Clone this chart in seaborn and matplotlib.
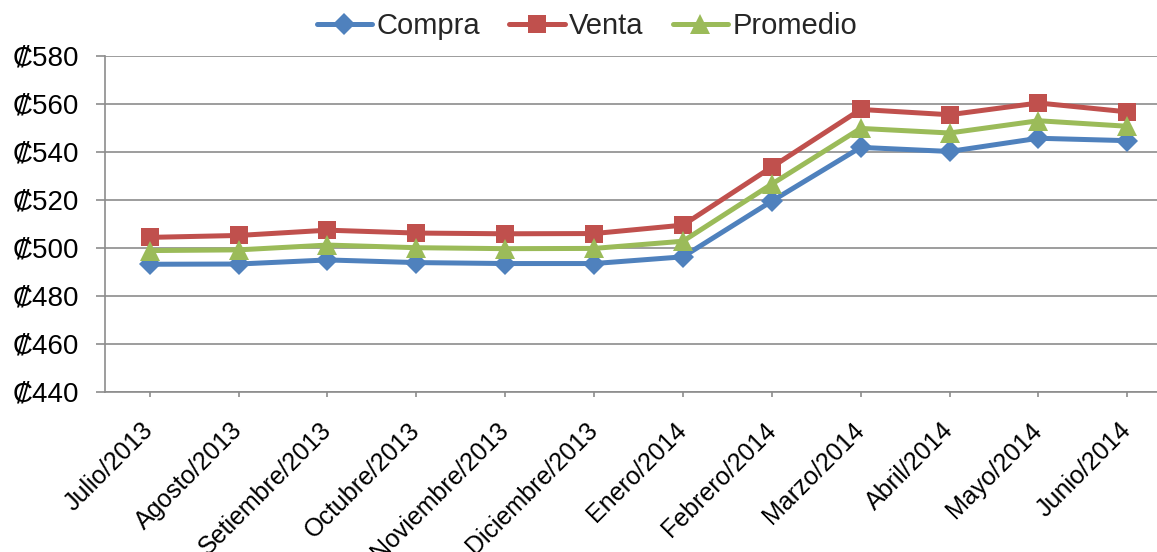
import matplotlib
matplotlib.use("Agg")
import matplotlib.pyplot as plt
import seaborn as sns
import pandas as pd

months = ["Julio/2013", "Agosto/2013", "Setiembre/2013", "Octubre/2013",
          "Noviembre/2013", "Diciembre/2013", "Enero/2014", "Febrero/2014",
          "Marzo/2014", "Abril/2014", "Mayo/2014", "Junio/2014"]
compra = [493.1, 493.2, 494.9, 493.8, 493.4, 493.4, 496.2, 519.4, 541.8, 540.1, 545.6, 544.6]
venta = [504.3, 505.1, 507.3, 506.1, 505.8, 505.9, 509.4, 533.6, 557.6, 555.4, 560.3, 556.6]
promedio = [498.8, 499.1, 501.1, 500.0, 499.6, 499.7, 502.7, 526.5, 549.7, 547.8, 552.9, 550.6]
y_ticks = [440, 460, 480, 500, 520, 540, 560, 580]

sns.set_theme(style="white")
plt.rcParams["font.family"] = ["Liberation Sans", "DejaVu Sans"]

W, H, DPI = 1157, 552, 100
fig = plt.figure(figsize=(W / DPI, H / DPI), dpi=DPI)
ax = fig.add_axes([105.3 / W, 160.3 / H, (1171.7 - 105.3) / W, (391.7 - 55.7) / H])

df = pd.DataFrame({"Mes": months, "Compra": compra, "Venta": venta, "Promedio": promedio})
x = list(range(len(months)))
df["x"] = x

series = [
    ("Compra", "#4F81BD", "D", 11.5),
    ("Venta", "#C0504D", "s", 13),
    ("Promedio", "#9BBB59", "^", 14),
]
for name, color, marker, ms in series:
    sns.lineplot(data=df, x="x", y=name, ax=ax, color=color, marker=marker,
                 markersize=ms, markeredgewidth=0, linewidth=3.6, label=name,
                 sort=False)

grid_c = "#8C8C8C"
ax.set_xlim(-0.5, len(months) - 0.5)
ax.set_ylim(440, 580)
ax.set_yticks(y_ticks)
ax.set_yticklabels([f"\u20a1{v}" for v in y_ticks], fontsize=20)
ax.set_xticks(x)
ax.set_xticklabels(months, fontsize=18, rotation=45, ha="right", va="center",
                   rotation_mode="anchor")
ax.set_xlabel("")
ax.set_ylabel("")
ax.yaxis.grid(True, color=grid_c, linewidth=1.2)
ax.xaxis.grid(False)
ax.set_axisbelow(True)
for s in ["top", "right"]:
    ax.spines[s].set_visible(False)
for s in ["left", "bottom"]:
    ax.spines[s].set_color(grid_c)
    ax.spines[s].set_linewidth(1.2)
ax.tick_params(axis="y", direction="out", length=6.2, width=1.2, color=grid_c,
               pad=12.7, left=True, labelcolor="black")
ax.tick_params(axis="x", direction="out", length=3.6, width=1.2, color=grid_c,
               pad=21.6, bottom=True, labelcolor="black")

ax.get_legend().remove()
handles, labels = ax.get_legend_handles_labels()
fig.legend(handles, labels, loc="center", bbox_to_anchor=(587 / W, 1 - 26 / H),
           ncol=3, frameon=False, fontsize=21, handlelength=1.9,
           handletextpad=0.15, columnspacing=1.0, borderaxespad=0)

fig.savefig("out.png", dpi=DPI)
